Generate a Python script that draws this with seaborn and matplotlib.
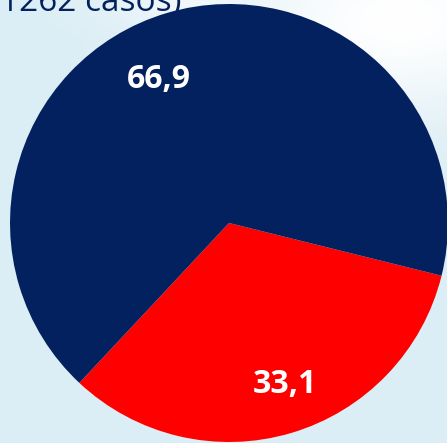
import numpy as np
import matplotlib
matplotlib.use('Agg')
from matplotlib import pyplot as plt
import seaborn as sns

sns.set_theme(style='white')
plt.rcParams['font.family'] = ['Open Sans', 'DejaVu Sans']

categorias = ['Grupo B', 'Grupo A']
porcentajes = [33.1, 66.9]
etiquetas = ['33,1', '66,9']
colores = ['#ff0000', '#03215f']
titulo = '1262 casos)'

fig = plt.figure(figsize=(4.47, 4.43), dpi=100)

# fondo celeste con zona clara arriba a la derecha
bg = fig.add_axes([0, 0, 1, 1])
yy, xx = np.mgrid[0:443, 0:447]
blob = np.exp(-(((xx - 400) / 170.0) ** 2 + ((yy - 20) / 90.0) ** 2))
blob = np.maximum(blob, 0.6 * np.exp(-(((xx - 200) / 90.0) ** 2 + ((yy - 5) / 30.0) ** 2)))
base = np.array([220, 238, 245]) / 255.0
img = base[None, None, :] * (1 - blob[..., None]) + blob[..., None] * 1.0
bg.imshow(img, aspect='auto', extent=[0, 1, 0, 1])
bg.axis('off')

ax = fig.add_axes([10 / 447, 1 / 443, 438 / 447, 438 / 443])
ax.set_facecolor('none')
wedges, texts = ax.pie(porcentajes, colors=colores, startangle=-133.1,
                       counterclock=True, labels=etiquetas, labeldistance=0.76,
                       wedgeprops={'linewidth': 0},
                       textprops={'color': 'white', 'fontsize': 23,
                                  'fontweight': 'bold', 'ha': 'center', 'va': 'center'})
# etiquetas un poco desplazadas respecto al centro del sector, como en el original
giro = [2.5, 9.5]
dist = [0.78, 0.73]
for w, t, g, d in zip(wedges, texts, giro, dist):
    ang = np.deg2rad((w.theta1 + w.theta2) / 2 + g)
    t.set_position((d * np.cos(ang), d * np.sin(ang)))

ax.set_xlim(-1, 1)
ax.set_ylim(-1, 1)
ax.set_aspect('equal')
ax.axis('off')

fig.text(0.0, 1 - 11 / 443, titulo, color='#03215f', fontsize=24,
         ha='left', va='baseline')

plt.savefig('out.png', dpi=100)
